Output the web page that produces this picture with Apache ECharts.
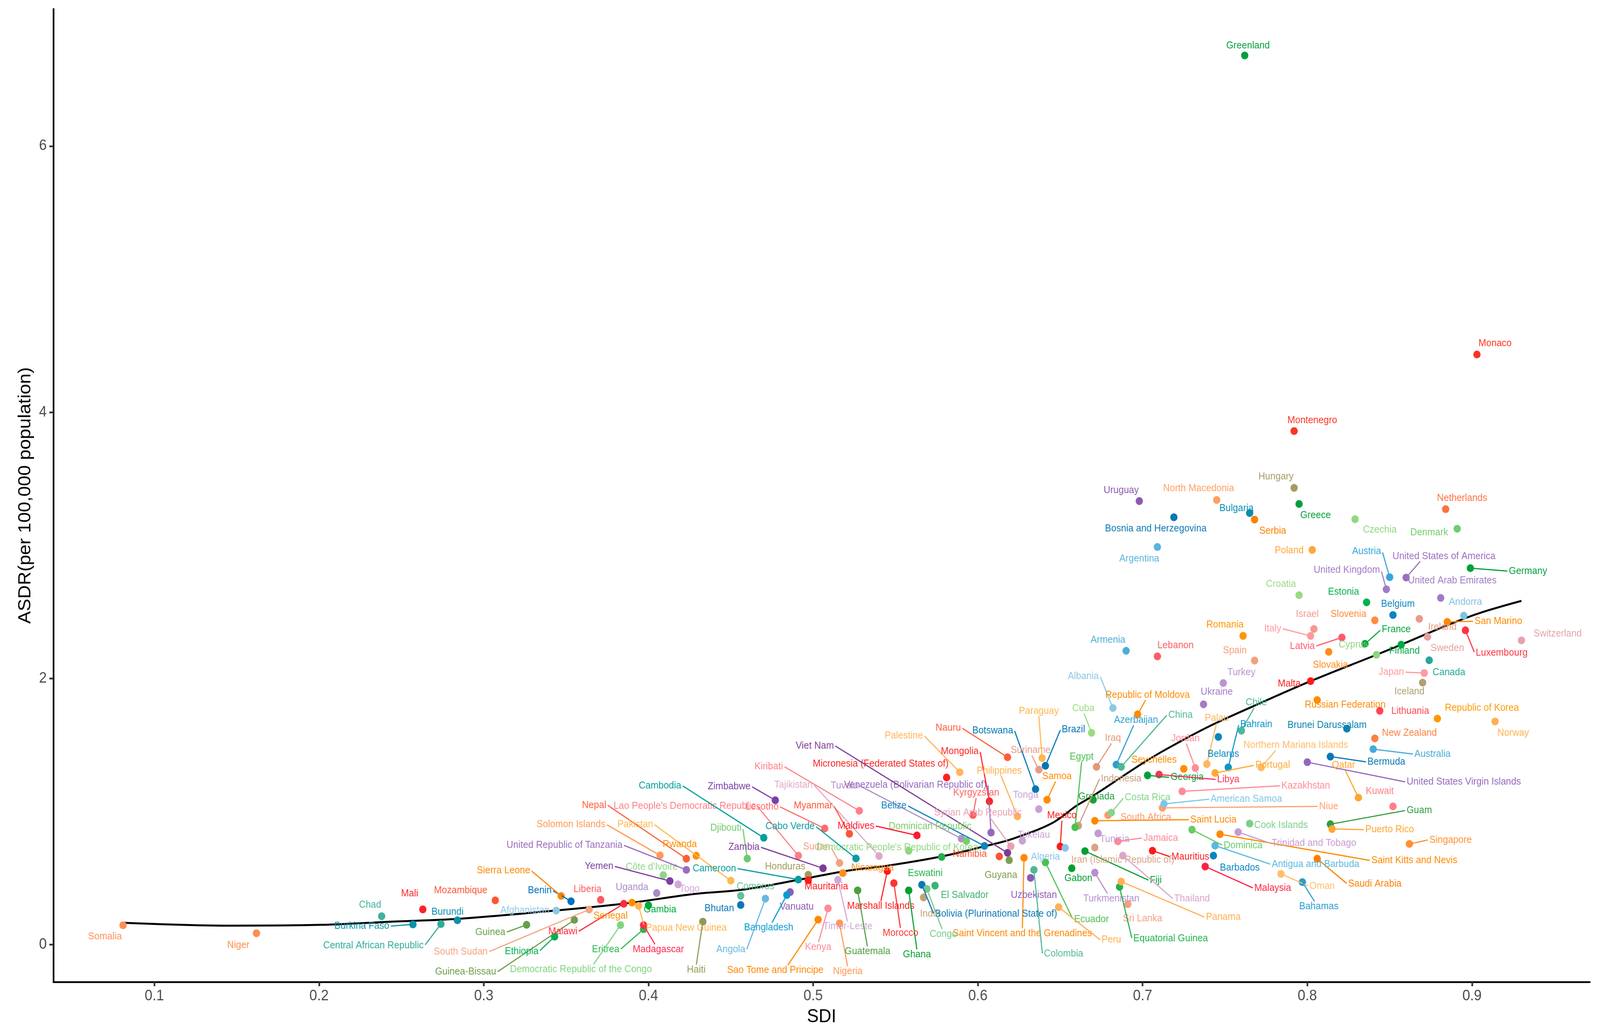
<!DOCTYPE html>
<html>
<head>
<meta charset="utf-8">
<script src="https://cdn.jsdelivr.net/npm/echarts@6/dist/echarts.min.js"></script>
<style>
html,body{margin:0;padding:0;background:#ffffff;overflow:hidden;}
#chart{width:4377px;height:2636px;transform-origin:0 0;}
</style>
</head>
<body>
<div id="chart"></div>
<script>
// ---------------- data ----------------
const countries = [
  "Somalia","Niger","Chad","Burkina Faso","Central African Republic","Mali","Burundi","Mozambique","Afghanistan","Benin",
  "Sierra Leone","Liberia","Guinea","Guinea-Bissau","South Sudan","Ethiopia","Malawi","Senegal","Papua New Guinea","Gambia",
  "Eritrea","Madagascar","Democratic Republic of the Congo","Uganda","Togo","Yemen","Côte d'Ivoire","United Republic of Tanzania","Solomon Islands","Nepal",
  "Pakistan","Rwanda","Lao People's Democratic Republic","Cambodia","Zimbabwe","Kiribati","Tajikistan","Tuvalu","Venezuela (Bolivarian Republic of)","Viet Nam",
  "Micronesia (Federated States of)","Palestine","Mongolia","Nauru","Botswana","Philippines","Kyrgyzstan","Syrian Arab Republic","Tonga","Samoa",
  "Suriname","Paraguay","Brazil","Cuba","Albania","Armenia","Lebanon","Romania","Spain","Turkey",
  "Ukraine","Republic of Moldova","Azerbaijan","China","Iraq","Palau","Chile","Bahrain","Belarus","Jordan",
  "Brunei Darussalam","Malta","Russian Federation","Slovakia","Latvia","Italy","Israel","Croatia","Estonia","Slovenia",
  "Cyprus","France","Finland","Belgium","United Kingdom","Austria","United States of America","United Arab Emirates","Germany","Czechia",
  "Denmark","Netherlands","Greece","Hungary","Poland","Serbia","Bulgaria","North Macedonia","Uruguay","Bosnia and Herzegovina",
  "Argentina","Montenegro","Monaco","Greenland","Ireland","Sweden","San Marino","Andorra","Luxembourg","Switzerland",
  "Canada","Japan","Iceland","Lithuania","Republic of Korea","Norway","New Zealand","Australia","Bermuda","United States Virgin Islands",
  "Qatar","Kuwait","Guam","Puerto Rico","Singapore","Saint Kitts and Nevis","Trinidad and Tobago","Saudi Arabia","Antigua and Barbuda","Oman",
  "Bahamas","Niue","Kazakhstan","Northern Mariana Islands","Portugal","American Samoa","Cook Islands","Dominica","Barbados","Malaysia",
  "Mauritius","Saint Lucia","South Africa","Costa Rica","Grenada","Indonesia","Egypt","Seychelles","Georgia","Libya",
  "Tunisia","Jamaica","Mexico","Algeria","Tokelau","Guyana","Namibia","Belize","Saint Vincent and the Grenadines","Uzbekistan",
  "Colombia","Ecuador","Gabon","Peru","Turkmenistan","Sri Lanka","Equatorial Guinea","Panama","Fiji","Iran (Islamic Republic of)",
  "Thailand","Djibouti","Zambia","Cameroon","Honduras","Mauritania","Comoros","Bhutan","Vanuatu","Bangladesh",
  "Angola","Haiti","Sao Tome and Principe","Kenya","Timor-Leste","Nigeria","Guatemala","Marshall Islands","Nicaragua","Sudan",
  "Democratic People's Republic of Korea","Dominican Republic","Cabo Verde","Lesotho","Myanmar","Maldives","Eswatini","El Salvador","Ghana","Morocco",
  "India","Bolivia (Plurinational State of)","Congo"
];

// SDI of each country (x)
const sdi = [
  0.081,0.162,0.238,0.257,0.274,0.263,0.284,0.307,0.344,0.353,
  0.347,0.371,0.326,0.355,0.364,0.343,0.385,0.390,0.394,0.400,
  0.397,0.397,0.383,0.405,0.418,0.413,0.409,0.423,0.407,0.423,
  0.450,0.429,0.491,0.470,0.477,0.528,0.540,0.590,0.608,0.618,
  0.581,0.589,0.607,0.618,0.635,0.624,0.597,0.620,0.637,0.642,
  0.637,0.639,0.641,0.669,0.682,0.690,0.709,0.761,0.768,0.749,
  0.737,0.697,0.684,0.687,0.672,0.739,0.760,0.752,0.746,0.732,
  0.824,0.802,0.806,0.813,0.821,0.802,0.804,0.795,0.836,0.841,
  0.842,0.835,0.857,0.852,0.848,0.850,0.860,0.881,0.899,0.829,
  0.891,0.884,0.795,0.792,0.803,0.768,0.765,0.745,0.698,0.719,
  0.709,0.792,0.903,0.762,0.868,0.873,0.885,0.895,0.896,0.930,
  0.874,0.871,0.870,0.844,0.879,0.914,0.841,0.840,0.814,0.800,
  0.831,0.852,0.814,0.815,0.862,0.747,0.758,0.806,0.744,0.784,
  0.797,0.712,0.724,0.772,0.744,0.713,0.765,0.730,0.743,0.738,
  0.706,0.671,0.679,0.681,0.670,0.661,0.659,0.725,0.703,0.710,
  0.673,0.685,0.650,0.653,0.627,0.619,0.613,0.604,0.628,0.632,
  0.634,0.641,0.657,0.649,0.671,0.691,0.686,0.687,0.665,0.671,
  0.688,0.460,0.506,0.491,0.497,0.497,0.456,0.456,0.486,0.484,
  0.471,0.433,0.503,0.509,0.515,0.516,0.527,0.545,0.518,0.516,
  0.558,0.593,0.526,0.507,0.522,0.563,0.578,0.574,0.558,0.549,
  0.567,0.566,0.569
];

// ASDR per 100,000 population (y)
const asdr = [
  0.146,0.086,0.214,0.152,0.155,0.265,0.183,0.333,0.256,0.326,
  0.366,0.337,0.149,0.186,0.264,0.060,0.307,0.316,0.292,0.296,
  0.116,0.147,0.147,0.388,0.453,0.478,0.523,0.562,0.671,0.646,
  0.481,0.668,0.669,0.803,1.085,1.006,0.666,0.797,0.842,0.690,
  1.256,1.296,1.077,1.408,1.168,0.964,0.974,0.739,1.018,1.089,
  1.315,1.402,1.344,1.592,1.778,2.208,2.166,2.320,2.135,1.966,
  1.806,1.731,1.353,1.336,1.336,1.357,1.608,1.332,1.561,1.327,
  1.623,1.980,1.838,2.200,2.308,2.320,2.372,2.626,2.572,2.437,
  2.178,2.260,2.254,2.477,2.670,2.761,2.758,2.605,2.829,3.197,
  3.125,3.272,3.311,3.432,2.966,3.194,3.243,3.341,3.333,3.211,
  2.988,3.859,4.434,6.681,2.448,2.313,2.425,2.472,2.362,2.286,
  2.137,2.041,1.969,1.757,1.699,1.677,1.550,1.469,1.413,1.371,
  1.105,1.039,0.905,0.869,0.757,0.830,0.846,0.646,0.744,0.532,
  0.470,1.028,1.152,1.332,1.290,1.058,0.910,0.864,0.669,0.587,
  0.706,0.931,0.973,0.992,1.089,0.894,0.882,1.321,1.272,1.278,
  0.836,0.776,0.738,0.727,0.781,0.635,0.663,0.742,0.653,0.502,
  0.562,0.618,0.574,0.282,0.541,0.304,0.434,0.474,0.703,0.730,
  0.669,0.647,0.574,0.489,0.525,0.484,0.367,0.298,0.395,0.373,
  0.346,0.173,0.188,0.273,0.487,0.160,0.408,0.553,0.538,0.614,
  0.705,0.779,0.648,0.873,0.833,0.821,0.659,0.444,0.408,0.462,
  0.355,0.450,0.419
];

// where each repelled label sits (data units)
const labelSdi = [
  0.070,0.151,0.231,0.226,0.233,0.255,0.278,0.286,0.325,0.334,
  0.312,0.363,0.304,0.289,0.286,0.323,0.348,0.377,0.423,0.407,
  0.374,0.406,0.359,0.390,0.425,0.370,0.402,0.349,0.353,0.367,
  0.392,0.419,0.422,0.407,0.449,0.473,0.488,0.519,0.562,0.501,
  0.541,0.555,0.589,0.582,0.609,0.613,0.599,0.600,0.629,0.648,
  0.632,0.637,0.658,0.664,0.664,0.679,0.720,0.750,0.756,0.760,
  0.745,0.703,0.696,0.723,0.682,0.745,0.769,0.769,0.749,0.726,
  0.812,0.789,0.823,0.814,0.797,0.779,0.800,0.784,0.822,0.825,
  0.828,0.854,0.859,0.855,0.824,0.836,0.883,0.888,0.934,0.844,
  0.874,0.894,0.805,0.781,0.789,0.779,0.757,0.734,0.687,0.708,
  0.698,0.803,0.914,0.764,0.882,0.885,0.916,0.896,0.918,0.952,
  0.886,0.851,0.862,0.8625,0.906,0.925,0.862,0.876,0.848,0.895,
  0.822,0.844,0.868,0.850,0.887,0.865,0.804,0.841,0.805,0.809,
  0.807,0.813,0.799,0.793,0.779,0.763,0.784,0.761,0.759,0.779,
  0.729,0.743,0.702,0.703,0.672,0.687,0.663,0.707,0.727,0.752,
  0.683,0.711,0.651,0.641,0.634,0.614,0.595,0.549,0.627,0.634,
  0.652,0.669,0.661,0.681,0.681,0.700,0.717,0.749,0.708,0.688,
  0.730,0.447,0.458,0.440,0.483,0.508,0.465,0.443,0.490,0.473,
  0.450,0.429,0.477,0.503,0.521,0.521,0.533,0.541,0.536,0.502,
  0.551,0.571,0.486,0.469,0.500,0.526,0.568,0.592,0.563,0.553,
  0.571,0.611,0.579
];
const labelAsdr = [
  0.062,-0.004,0.298,0.140,-0.007,0.383,0.245,0.408,0.256,0.408,
  0.556,0.417,0.093,-0.204,-0.053,-0.050,0.099,0.215,0.124,0.264,
  -0.036,-0.036,-0.187,0.432,0.419,0.588,0.582,0.747,0.902,1.048,
  0.902,0.754,1.042,1.194,1.189,1.338,1.201,1.194,1.201,1.493,
  1.357,1.570,1.452,1.627,1.608,1.306,1.141,0.992,1.122,1.265,
  1.460,1.755,1.616,1.776,2.017,2.289,2.247,2.403,2.210,2.044,
  1.897,1.876,1.687,1.726,1.551,1.701,1.819,1.655,1.431,1.550,
  1.649,1.961,1.803,2.102,2.243,2.374,2.482,2.709,2.651,2.484,
  2.254,2.367,2.208,2.558,2.814,2.954,2.918,2.736,2.807,3.118,
  3.096,3.355,3.225,3.515,2.961,3.108,3.277,3.429,3.414,3.125,
  2.900,3.940,4.518,6.755,2.386,2.227,2.430,2.575,2.191,2.337,
  2.044,2.047,1.902,1.755,1.777,1.589,1.589,1.432,1.373,1.223,
  1.349,1.154,1.008,0.864,0.787,0.633,0.761,0.457,0.604,0.440,
  0.286,1.039,1.194,1.499,1.348,1.093,0.897,0.746,0.578,0.425,
  0.659,0.939,0.955,1.107,1.113,1.247,1.412,1.387,1.257,1.241,
  0.793,0.801,0.970,0.660,0.824,0.521,0.681,1.043,0.085,0.373,
  -0.068,0.191,0.498,0.036,0.346,0.197,0.046,0.206,0.484,0.635,
  0.346,0.876,0.732,0.572,0.586,0.435,0.435,0.273,0.285,0.127,
  -0.037,-0.189,-0.193,-0.019,0.136,-0.201,-0.052,0.289,0.578,0.736,
  0.730,0.888,0.888,1.036,1.044,0.892,0.535,0.371,-0.074,0.087,
  0.231,0.230,0.079
];

// fitted curve
const curveSdi  = [0.081,0.146,0.201,0.244,0.284,0.343,0.385,0.428,0.457,0.491,0.520,0.546,0.578,0.605,0.620,0.645,0.660,0.670,0.700,0.715,0.740,0.766,0.802,0.842,0.857,0.885,0.904,0.930];
const curveAsdr = [0.165,0.143,0.149,0.173,0.194,0.256,0.308,0.381,0.413,0.487,0.554,0.595,0.663,0.742,0.791,0.913,1.045,1.119,1.363,1.473,1.638,1.785,1.980,2.178,2.254,2.400,2.489,2.583];

const xTicks = [0.1,0.2,0.3,0.4,0.5,0.6,0.7,0.8,0.9];
const yTicks = [0,2,4,6];

// ---------------- styles ----------------
const colors = [
  "#FF8F5A","#FF8C50","#3FB39A","#0A93A8","#2FAA9A","#F8222B","#0A8FB0","#FF5533","#8FC8E5","#0072BB",
  "#FF8800","#FF5A60","#65A04A","#6E9D4D","#F4A582","#00B050","#FF2A3A","#FF8C00","#FFB54D","#00A83A",
  "#2DB84F","#FF2A50","#80D47F","#A98BC9","#D4A6D8","#7E3FA1","#8CD886","#9B6DBE","#FF9955","#FF5E3A",
  "#FFB84D","#FF8C00","#FF7F86","#009E9A","#7B3FA6","#FF7F86","#E0A8C8","#B38FCB","#9467BD","#7D3C98",
  "#FF2020","#FFB55A","#FF2222","#FF5E3A","#0077B6","#FFB050","#FF6060","#E8A0B4","#C9A2D5","#FF8C00",
  "#E89A8C","#FFB74D","#0077B6","#9ADD7E","#8DC8E4","#4DAED6","#FF5C64","#FF9500","#F4A07A","#BE93CF",
  "#A57BC4","#FF8C00","#2E9FD0","#4DB891","#E4977C","#FFB55A","#4DB89A","#0A96C8","#0A87C0","#FF8C94",
  "#0A82AD","#FF1A1A","#FF8C00","#FF8C1A","#FF5A6A","#FF9AA0","#F6998F","#98DB82","#00B04C","#FF8C3C",
  "#8FD47F","#00A83A","#00AA44","#0A86C0","#A27BC4","#33A6D8","#9C6FBF","#A07CC5","#00A03C","#8ED97C",
  "#6ECF6E","#FF7043","#00A03C","#A89A63","#FFA63C","#FF8000","#0A8BB0","#FFA060","#8E5AAE","#0A77B5",
  "#5AB4DC","#FF3322","#FF3322","#00A03C","#EC9A85","#E8A0A0","#FF8800","#7FC3E0","#FF3344","#E4A4AC",
  "#26A69A","#FF9AA0","#B0A070","#FF4455","#FF9900","#FFB050","#FF7F40","#45ACD6","#0A77B5","#9467BD",
  "#FFA530","#FF7F86","#2E9E3E","#FFA530","#FF9030","#FF8800","#C79BD6","#FF8000","#5BB8E0","#FFBF69",
  "#2B9CD0","#FFA070","#FF8A96","#FFBB66","#FFAA33","#7FC6E4","#7DCE8A","#66CC66","#0A85C2","#FF2244",
  "#FF1A1A","#FF8800","#FF9966","#88D488","#1E9E3A","#C8A07A","#4DC04D","#FF8C00","#00A03C","#FF3355",
  "#C39BD3","#FF8A96","#FF1A1A","#86C5E5","#C9A2D5","#7E9E50","#FF5533","#0A86C0","#FF8800","#8E5AB5",
  "#52B795","#4DC04D","#00A030","#FFB050","#B68FD0","#F4A080","#22B14C","#FFB050","#00A030","#D9A384",
  "#D9A6CC","#6CCB6C","#7D3C98","#0A9BA0","#A09A5A","#FF1A1A","#66C199","#0A77B5","#8E5AB5","#0A9BCF",
  "#66B9E0","#8E9A55","#FF8800","#FF8A96","#D0A8D8","#FF9955","#4E9E40","#FF1A1A","#FF8C1A","#F4A080",
  "#8FD880","#7ACC6A","#0A9BA0","#FF6B6B","#FF5533","#FF1A30","#22B14C","#3CB371","#00A030","#FF3333",
  "#C8A070","#0A77B5","#77C88A"
];

const FONT = "Liberation Sans";
const LABEL_SIZE = 25.5;
const BOX_PAD = 4;      // extra room round a label where a leader line stops
const MIN_SEG = 37;     // shortest gap (px) from point to label that earns a leader line

// the page is designed at 4377x2636; squeeze it to whatever window we get
const chartDom = document.getElementById('chart');
const fitX = window.innerWidth / 4377, fitY = window.innerHeight / 2636;
chartDom.style.transform = 'scale(' + fitX + ',' + fitY + ')';

const measureCtx = document.createElement('canvas').getContext('2d');
measureCtx.font = LABEL_SIZE + 'px "' + FONT + '"';

// closest point of a box, nudged toward the middle of that edge (ggrepel style)
function connection(px, py, x1, y1, x2, y2) {
  let ox, oy, L = false, R = false, T = false, B = false;
  if (px >= x1 && px <= x2) ox = px; else if (px > x2) { ox = x2; R = true; } else { ox = x1; L = true; }
  if (py >= y1 && py <= y2) oy = py; else if (py > y2) { oy = y2; B = true; } else { oy = y1; T = true; }
  const midx = (x1 + x2) / 2, midy = (y1 + y2) / 2;
  const d = Math.hypot(px - ox, py - oy);
  if ((T || B) && !(L || R)) {
    const altd = Math.hypot(px - midx, py - oy);
    if (altd > 0) ox = ox + (midx - ox) * d / altd;
  } else if ((L || R) && !(T || B)) {
    const altd = Math.hypot(px - ox, py - midy);
    if (altd > 0) oy = oy + (midy - oy) * d / altd;
  } else if ((L || R) && (T || B)) {
    const altd1 = Math.hypot(px - midx, py - oy);
    const altd2 = Math.hypot(px - ox, py - midy);
    if (altd1 < altd2) ox = ox + (midx - ox) * d / altd1;
    else oy = oy + (midy - oy) * d / altd2;
  }
  return { x: ox, y: oy, gap: d };
}

function renderLabel(params, api) {
  const i = params.dataIndex;
  const p = api.coord([api.value(0), api.value(1)]);
  const c = api.coord([api.value(2), api.value(3)]);
  const name = countries[i];
  const col = colors[i];
  const hw = measureCtx.measureText(name).width / 2;
  const hh = LABEL_SIZE * 0.36;
  const children = [];
  const g = connection(p[0], p[1], c[0] - hw, c[1] - hh, c[0] + hw, c[1] + hh);
  if (g.gap > MIN_SEG) {
    const e = connection(p[0], p[1], c[0] - hw - BOX_PAD, c[1] - hh - BOX_PAD, c[0] + hw + BOX_PAD, c[1] + hh + BOX_PAD);
    children.push({
      type: 'line',
      shape: { x1: p[0], y1: p[1], x2: e.x, y2: e.y },
      style: { stroke: col, lineWidth: 3 }
    });
  }
  children.push({
    type: 'text',
    style: {
      text: name, x: c[0], y: c[1], fill: col,
      fontSize: LABEL_SIZE, fontFamily: FONT,
      align: 'center', verticalAlign: 'middle'
    }
  });
  return { type: 'group', children: children };
}

const chart = echarts.init(chartDom, null, { renderer: 'canvas', width: 4377, height: 2636 });

const option = {
  backgroundColor: '#ffffff',
  animation: false,
  grid: { left: 146, right: 28, top: 23, bottom: 123, containLabel: false },
  xAxis: {
    type: 'value', min: 0.0387, max: 0.9715,
    name: 'SDI', nameLocation: 'middle', nameGap: 66,
    nameTextStyle: { fontSize: 48, color: '#000000', fontFamily: FONT },
    axisLine: { show: true, onZero: false, lineStyle: { color: '#000000', width: 4.5 } },
    axisTick: { show: true, length: 11, customValues: xTicks, lineStyle: { color: '#333333', width: 4.5 } },
    axisLabel: { customValues: xTicks, fontSize: 38, color: '#4D4D4D', fontFamily: FONT, margin: 18,
                 formatter: function (v) { return Number(v).toFixed(1); } },
    splitLine: { show: false }
  },
  yAxis: {
    type: 'value', min: -0.28, max: 7.03,
    name: 'ASDR(per 100,000 population)', nameLocation: 'middle', nameGap: 52, nameRotate: 90,
    nameTextStyle: { fontSize: 48, color: '#000000', fontFamily: FONT },
    axisLine: { show: true, onZero: false, lineStyle: { color: '#000000', width: 4.5 } },
    axisTick: { show: true, length: 11, customValues: yTicks, lineStyle: { color: '#333333', width: 4.5 } },
    axisLabel: { customValues: yTicks, fontSize: 38, color: '#4D4D4D', fontFamily: FONT, margin: 18,
                 formatter: function (v) { return String(Math.round(v)); } },
    splitLine: { show: false }
  },
  series: [
    {
      type: 'line', silent: true, z: 2,
      data: curveSdi.map(function (x, i) { return [x, curveAsdr[i]]; }),
      smooth: 0.35, symbol: 'none',
      lineStyle: { color: '#000000', width: 5 }
    },
    {
      type: 'scatter', silent: true, z: 3, symbolSize: 20,
      data: countries.map(function (n, i) {
        return { value: [sdi[i], asdr[i]], itemStyle: { color: colors[i], opacity: 1 } };
      })
    },
    {
      type: 'custom', silent: true, z: 4,
      renderItem: renderLabel,
      encode: { x: 0, y: 1 },
      data: countries.map(function (n, i) { return [sdi[i], asdr[i], labelSdi[i], labelAsdr[i]]; })
    }
  ]
};
chart.setOption(option);
</script>
</body>
</html>
